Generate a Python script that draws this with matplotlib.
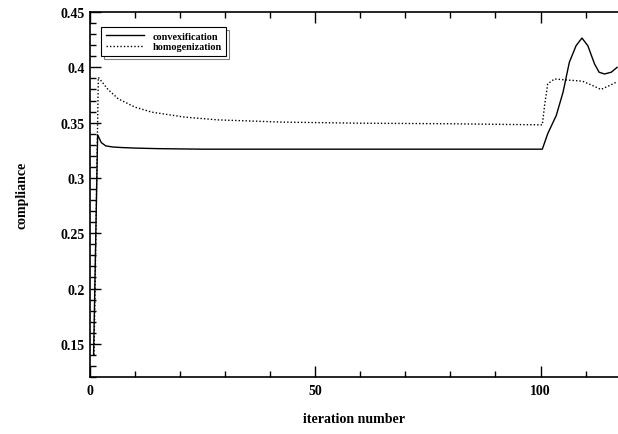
import numpy as np
import matplotlib
matplotlib.use("Agg")
import matplotlib.pyplot as plt
from matplotlib.ticker import MultipleLocator

plt.rcParams['font.family'] = ['Liberation Serif', 'DejaVu Serif']
plt.rcParams['font.weight'] = 'bold'

# values
conv_iter = [0.8, 1.7, 2.5, 3.5, 5, 7, 10, 15, 25, 40, 60, 80, 100.4,
             101.6, 103.5, 105, 106.4, 107.9, 109.2, 110.5, 112, 113, 114.2,
             115.7, 117]
conv_val = [0.14, 0.339, 0.332, 0.329, 0.328, 0.3275, 0.327, 0.3265, 0.326,
            0.326, 0.326, 0.326, 0.326,
            0.340, 0.3565, 0.3775, 0.4046, 0.4196, 0.4265, 0.4196, 0.403,
            0.3956, 0.394, 0.3956, 0.400]

homog_iter = [0.9, 1.85, 4, 6.3, 10, 13.7, 21, 28.4, 42.5, 60, 80, 100.4,
              100.9, 101.6, 103.1, 105.7, 109.3, 111.6, 113.4, 115.3, 117]
homog_val = [0.14, 0.391, 0.38, 0.3715, 0.364, 0.3595, 0.355, 0.3525,
             0.3505, 0.3495, 0.349, 0.348,
             0.3654, 0.385, 0.3895, 0.3886, 0.3875, 0.3835, 0.380, 0.3835,
             0.387]

fig = plt.figure(figsize=(6.18, 4.35), dpi=100)
ax = fig.add_axes([0.1456, 0.131, 0.8544, 0.839])

ax.plot(conv_iter, conv_val, color='black', lw=1.0, label='convexification')
ax.plot(homog_iter, homog_val, color='black', lw=1.0, ls=(0, (1, 1.5)),
        label='homogenization')

ax.set_xlim(0, 117.2)
ax.set_ylim(0.12, 0.45)
ax.xaxis.set_major_locator(MultipleLocator(50))
ax.xaxis.set_minor_locator(MultipleLocator(10))
ax.yaxis.set_major_locator(MultipleLocator(0.05))
ax.yaxis.set_minor_locator(MultipleLocator(0.01))
ax.tick_params(which='both', direction='in', top=True, right=False,
               labelsize=10, width=1.0)
ax.tick_params(which='major', length=8)
ax.tick_params(axis='x', which='major', pad=5)
ax.tick_params(axis='y', which='major', pad=4)
ax.tick_params(which='minor', length=4)
ax.set_yticks([0.15, 0.2, 0.25, 0.3, 0.35, 0.4, 0.45])
ax.set_yticklabels(['0.15', '0.2', '0.25', '0.3', '0.35', '0.4', '0.45'])
ax.set_xticks([0, 50, 100])
ax.set_xticklabels(['0', '50', '100'])
for lab in ax.get_xticklabels() + ax.get_yticklabels():
    lab.set_fontweight('bold')
ax.spines['right'].set_visible(False)
for s in ['left', 'bottom', 'top']:
    ax.spines[s].set_linewidth(1.2)

ax.set_xlabel('iteration number', fontsize=10, fontweight='bold', labelpad=11)
ax.set_ylabel('compliance', fontsize=10, fontweight='bold', labelpad=23)

leg = ax.legend(loc='upper left', bbox_to_anchor=(0.012, 0.973),
                prop={'size': 7.3, 'weight': 'bold'}, handlelength=3.8,
                fancybox=False, edgecolor='black', framealpha=1,
                borderpad=0.45, labelspacing=0.15,
                shadow={'facecolor': 'white', 'edgecolor': 'black',
                        'linewidth': 0.8})
leg.get_frame().set_linewidth(0.8)

fig.savefig('out.png', dpi=100)
